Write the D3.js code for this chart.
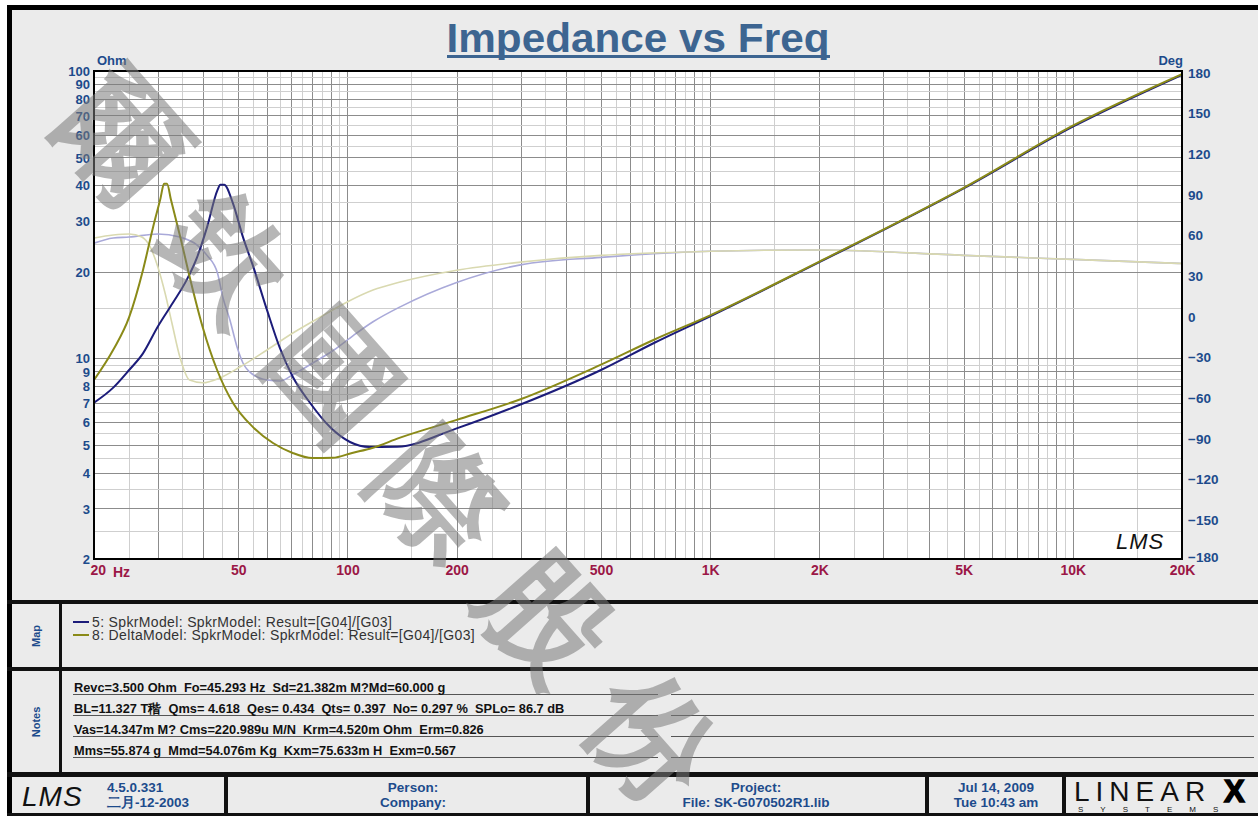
<!DOCTYPE html>
<html><head><meta charset="utf-8">
<script src="https://cdn.jsdelivr.net/npm/d3@7"></script>
<style>body{margin:0;background:#fff}svg{display:block}text{font-family:"Liberation Sans",Arial,sans-serif}</style>
</head><body><svg id="c" width="1258" height="816"></svg>
<script>
// ---------- data ----------
const blueZFreq = [20,22.6,25,27.3,30,33,36,38.5,41,43.8,44.6,45.7,48.3,51.5,55,60,65,70.7,78.8,89.5,101.6,115,137,200,300,500,700,1000,2000,5000,10000,20000];
const blueZ     = [7.0,7.9,9.1,10.4,12.9,15.6,18.7,22.5,28.6,38.5,40.2,40.2,34.7,26.4,20.8,14.7,10.9,8.6,7.0,5.76,5.11,4.91,4.92,5.7,6.9,9.1,11.3,14.0,21.6,39,64,97];
const oliveZFreq = [20,22.6,25,27.3,29.1,30.5,31.2,31.8,32.6,34.6,36.9,39.9,43.7,48.3,54.8,62.3,70.6,80,91,103,117,139,200,300,500,700,1000,2000,5000,10000,20000];
const oliveZ     = [8.4,10.7,13.9,20.3,28.6,36,40.5,40.5,35.6,26.4,18.7,12.8,9.1,7.0,5.77,5.07,4.68,4.49,4.5,4.68,4.87,5.28,6.1,7.2,9.5,11.6,14.1,21.7,39.2,64.5,97.5];
const bluePhFreq = [20,22.6,25,30,34.5,38.5,41,43.8,45.3,47.4,49.6,51.5,54.9,60,65.2,70.7,80.2,91.5,103.9,117.6,139.7,200,300,500,1000,2000,5000,10000,20000];
const bluePh     = [53,56.8,57.5,59.8,57.5,51.6,44,31,13.3,-3.7,-23.6,-35.4,-44,-48,-48.7,-44,-35.4,-26,-15,-5,6,24,37,42.5,47,48,44,41,38];
const olivePhFreq = [20,22.6,25,27.1,28.6,30,31.4,32.8,34.5,36.7,39.9,44.4,50.5,60,70.7,84.2,99.8,117.6,139.7,200,300,500,1000,2000,5000,10000,20000];
const olivePh     = [56.8,59,59.8,57.5,50,35.4,16.2,-5.9,-31,-48,-50,-46.5,-38.4,-25.8,-13.3,-1.5,9.6,18.4,24.3,33,39,44,47,48,44,41,38];

const xTickVals   = [20,50,100,200,500,1000,2000,5000,10000,20000];
const xTickLabels = ["20","50","100","200","500","1K","2K","5K","10K","20K"];
const yTickVals   = [2,3,4,5,6,7,8,9,10,20,30,40,50,60,70,80,90,100];
const phTickVals  = [-180,-150,-120,-90,-60,-30,0,30,60,90,120,150,180];

const legendItems = ["5: SpkrModel: SpkrModel: Result=[G04]/[G03]","8: DeltaModel: SpkrModel: SpkrModel: Result=[G04]/[G03]"];
const notesLines = [
 "Revc=3.500 Ohm  Fo=45.293 Hz  Sd=21.382m M?Md=60.000 g",
 "BL=11.327 T稭  Qms= 4.618  Qes= 0.434  Qts= 0.397  No= 0.297 %  SPLo= 86.7 dB",
 "Vas=14.347m M? Cms=220.989u M/N  Krm=4.520m Ohm  Erm=0.826",
 "Mms=55.874 g  Mmd=54.076m Kg  Kxm=75.633m H  Exm=0.567"
];
const watermark = "爾欽國際股份";

// ---------- styles ----------
const BG = "#ebebeb", AXBLUE = "#1d4b8c", XRED = "#9b1746";
const C_BLUE = "#1c1c7a", C_OLIVE = "#8a8a18", C_LAV = "#a9a9d9", C_KHAKI = "#d9d9b0";

const svg = d3.select("#c");
svg.append("rect").attr("width",1258).attr("height",816).attr("fill","#fff");
svg.append("rect").attr("x",9.5).attr("y",7.5).attr("width",1270).attr("height",820).attr("fill",BG).attr("stroke","#000").attr("stroke-width",5);

// section dividers
const hdiv = (y,h)=>svg.append("rect").attr("x",7).attr("y",y).attr("width",1260).attr("height",h).attr("fill","#111");
hdiv(600,4); hdiv(667,4); hdiv(772,5);
svg.append("rect").attr("x",59).attr("y",604).attr("width",3).attr("height",168).attr("fill","#111");
[224,586,925,1062].forEach(x=>svg.append("rect").attr("x",x).attr("y",777).attr("width",4).attr("height",40).attr("fill","#111"));
svg.append("rect").attr("x",7).attr("y",813).attr("width",1260).attr("height",4).attr("fill","#111");

// ---------- chart ----------
const L=94,R=1182,T=71,B=559;
const x = d3.scaleLog().domain([20,20000]).range([L,R]);
const y = d3.scaleLog().domain([2,100]).range([B,T]);
const yp = d3.scaleLinear().domain([-180,180]).range([B,T]);

svg.append("rect").attr("x",L).attr("y",T).attr("width",R-L).attr("height",B-T).attr("fill","#fff");

// grid
const xGrid=[]; [10,100,1000,10000].forEach(d=>{for(let m=1;m<10;m+=0.5){const v=d*m; if(v>20.001&&v<19999) xGrid.push({v,major:m%1===0});}});
const yGrid=[]; [1,10].forEach(d=>{for(let m=1;m<10;m+=0.5){const v=d*m; if(v>2.001&&v<99.99) yGrid.push({v,major:m%1===0});}});
const g = svg.append("g");
g.selectAll(".xg").data(xGrid).join("line").attr("x1",d=>Math.round(x(d.v))+0.5).attr("x2",d=>Math.round(x(d.v))+0.5).attr("y1",T).attr("y2",B)
 .attr("stroke",d=>d.major?"#8c8c8c":"#cfcfcf").attr("stroke-width",1);
g.selectAll(".yg").data(yGrid).join("line").attr("y1",d=>Math.round(y(d.v))+0.5).attr("y2",d=>Math.round(y(d.v))+0.5).attr("x1",L).attr("x2",R)
 .attr("stroke",d=>d.major?"#8c8c8c":"#cfcfcf").attr("stroke-width",1);

svg.append("clipPath").attr("id","clip").append("rect").attr("x",L).attr("y",T).attr("width",R-L).attr("height",B-T);
const plot = svg.append("g").attr("clip-path","url(#clip)");
function drawLine(fs,vs,sc,color,w){
  const pts = fs.map((f,i)=>[x(f),sc(vs[i])]);
  plot.append("path").attr("d",d3.line().curve(d3.curveMonotoneX)(pts)).attr("fill","none").attr("stroke",color).attr("stroke-width",w).attr("stroke-linejoin","round");
}
drawLine(bluePhFreq,bluePh,yp,C_LAV,1.6);
drawLine(olivePhFreq,olivePh,yp,C_KHAKI,1.6);
drawLine(blueZFreq,blueZ,y,C_BLUE,2);
drawLine(oliveZFreq,oliveZ,y,C_OLIVE,2);

svg.append("rect").attr("x",L).attr("y",T).attr("width",R-L).attr("height",B-T).attr("fill","none").attr("stroke","#000").attr("stroke-width",2);

// axes (d3 axes, domain/ticks hidden)
const axL = svg.append("g").attr("transform",`translate(${L-4},0)`).call(d3.axisLeft(y).tickValues(yTickVals).tickFormat(d3.format("d")).tickSize(0).tickPadding(0));
axL.select(".domain").remove();
axL.selectAll("text").attr("fill",AXBLUE).attr("font-size",13).attr("font-weight","bold").attr("font-family","Liberation Sans").attr("dy","0.36em");
const axR = svg.append("g").attr("transform",`translate(${R+6},0)`).call(d3.axisRight(yp).tickValues(phTickVals).tickFormat(d3.format("d")).tickSize(0).tickPadding(0));
axR.select(".domain").remove();
axR.selectAll("text").attr("fill",AXBLUE).attr("font-size",13.5).attr("font-weight","bold").attr("font-family","Liberation Sans").attr("dy",d=>d===-180?"0.2em":"0.45em");
const axB = svg.append("g").attr("transform",`translate(0,${B+6})`).call(d3.axisBottom(x).tickValues(xTickVals).tickFormat((d,i)=>xTickLabels[i]).tickSize(0).tickPadding(0));
axB.select(".domain").remove();
axB.selectAll("text").attr("fill",XRED).attr("font-size",14).attr("font-weight","bold").attr("font-family","Liberation Sans");
axB.selectAll("text").filter(d=>d===20).attr("text-anchor","start").attr("x",-4);
svg.append("text").attr("x",113).attr("y",B+18).attr("fill",XRED).attr("font-size",14).attr("font-weight","bold").text("Hz");

svg.append("text").attr("x",97).attr("y",65).attr("fill",AXBLUE).attr("font-size",13).attr("font-weight","bold").text("Ohm");
svg.append("text").attr("x",1183).attr("y",65).attr("text-anchor","end").attr("fill",AXBLUE).attr("font-size",13).attr("font-weight","bold").text("Deg");

// title
svg.append("text").attr("x",638).attr("y",52).attr("text-anchor","middle").attr("fill","#3d6591").attr("font-size",40).attr("font-weight","bold")
  .attr("textLength",383).attr("lengthAdjust","spacingAndGlyphs").text("Impedance vs Freq");
svg.append("rect").attr("x",447).attr("y",55).attr("width",383).attr("height",3).attr("fill","#3d6591");

// LMS mark inside plot
svg.append("text").attr("x",1116).attr("y",549).attr("font-family","DejaVu Serif").attr("font-style","italic").attr("font-size",22).attr("fill","#111").attr("letter-spacing",1).text("LMS");

// ---------- map / legend ----------
svg.append("text").attr("transform","translate(40,636) rotate(-90)").attr("text-anchor","middle").attr("fill",AXBLUE).attr("font-size",11).attr("font-weight","bold").text("Map");
const legColors=[C_BLUE,C_OLIVE];
legendItems.forEach((t,i)=>{
  const yy=622+i*13;
  svg.append("line").attr("x1",73).attr("x2",89).attr("y1",yy).attr("y2",yy).attr("stroke",legColors[i]).attr("stroke-width",2);
  svg.append("text").attr("x",92).attr("y",yy+4.5).attr("font-size",14).attr("letter-spacing",0.35).attr("fill","#333").text(t);
});

// ---------- notes ----------
svg.append("text").attr("transform","translate(40,722) rotate(-90)").attr("text-anchor","middle").attr("fill",AXBLUE).attr("font-size",11).attr("font-weight","bold").text("Notes");
notesLines.forEach((t,i)=>{
  const yy=694+i*21;
  svg.append("line").attr("x1",73).attr("x2",658).attr("y1",yy+0.5).attr("y2",yy+0.5).attr("stroke","#555").attr("stroke-width",1);
  svg.append("line").attr("x1",671).attr("x2",1254).attr("y1",yy+0.5).attr("y2",yy+0.5).attr("stroke","#555").attr("stroke-width",1);
  svg.append("text").attr("x",74).attr("y",yy-2).attr("font-size",12.8).attr("font-weight","bold").attr("fill","#111").style("white-space","pre").text(t);
});

// ---------- footer ----------
svg.append("text").attr("x",22).attr("y",806).attr("font-family","DejaVu Serif").attr("font-style","italic").attr("font-size",28).attr("fill","#111").attr("letter-spacing",1).text("LMS");
const ft=(x0,y0,t,anchor)=>svg.append("text").attr("x",x0).attr("y",y0).attr("text-anchor",anchor||"middle").attr("fill",AXBLUE).attr("font-size",13.5).attr("font-weight","bold").text(t);
ft(107,792,"4.5.0.331","start"); ft(107,807,"二月-12-2003","start");
ft(413,792,"Person:"); ft(413,807,"Company:");
ft(756,792,"Project:"); ft(756,807,"File: SK-G070502R1.lib");
ft(996,792,"Jul 14, 2009"); ft(996,807,"Tue 10:43 am");
svg.append("text").attr("x",1074).attr("y",801).attr("font-family","Liberation Serif").attr("font-size",28).attr("fill","#111").attr("letter-spacing",6).text("LINEAR");
svg.append("text").attr("x",1224).attr("y",802).attr("font-family","DejaVu Sans").attr("font-weight","bold").attr("font-size",31).attr("fill","#000").attr("stroke","#000").attr("stroke-width",1.5).text("X");
svg.append("text").attr("x",1078).attr("y",812).attr("font-size",8).attr("fill","#111").attr("letter-spacing",17).text("SYSTEMS");

// ---------- watermark ----------
svg.append("text").attr("transform","translate(122,137) rotate(48.5)").attr("x",-61).attr("dy","0.35em")
  .attr("font-family","Noto Sans CJK TC").attr("font-weight","bold").attr("font-size",122).attr("letter-spacing",38)
  .attr("fill","#7a7a7a").attr("fill-opacity",0.55).text(watermark);
</script></body></html>
